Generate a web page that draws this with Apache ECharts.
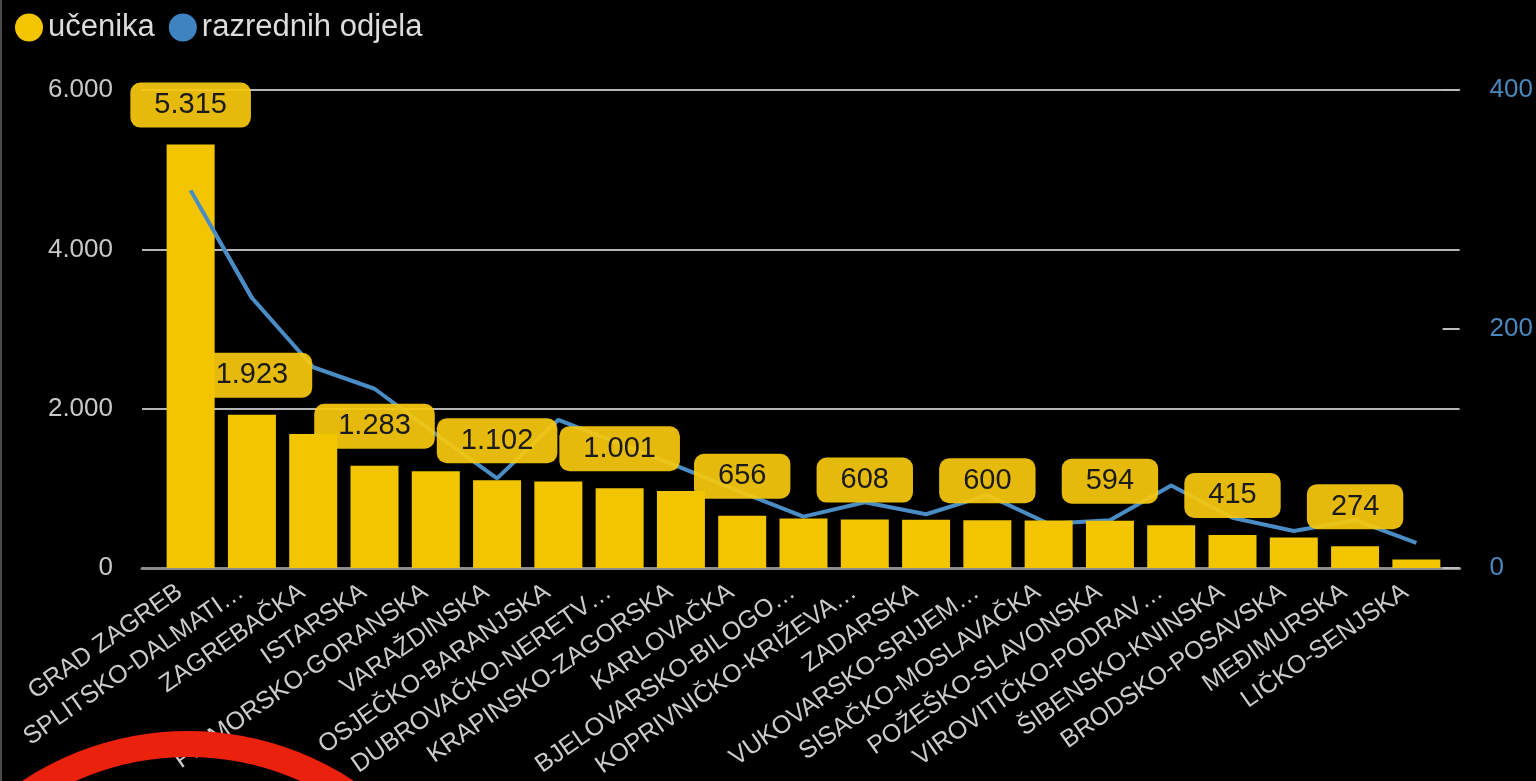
<!DOCTYPE html>
<html>
<head>
<meta charset="utf-8">
<script src="https://cdn.jsdelivr.net/npm/echarts@6/dist/echarts.min.js"></script>
<style>
html,body{margin:0;padding:0;background:#000;}
#chart{width:1536px;height:781px;}
</style>
</head>
<body>
<div id="chart"></div>
<script>
const categories = ['GRAD ZAGREB','SPLITSKO-DALMATI…','ZAGREBAČKA','ISTARSKA','PRIMORSKO-GORANSKA','VARAŽDINSKA','OSJEČKO-BARANJSKA','DUBROVAČKO-NERETV…','KRAPINSKO-ZAGORSKA','KARLOVAČKA','BJELOVARSKO-BILOGO…','KOPRIVNIČKO-KRIŽEVA…','ZADARSKA','VUKOVARSKO-SRIJEM…','SISAČKO-MOSLAVAČKA','POŽEŠKO-SLAVONSKA','VIROVITIČKO-PODRAV…','ŠIBENSKO-KNINSKA','BRODSKO-POSAVSKA','MEĐIMURSKA','LIČKO-SENJSKA'];
const ucenika = [5315,1923,1681,1283,1215,1102,1085,1001,965,656,620,608,605,600,595,594,537,415,382,274,106];
const odjela = [316,226,168,150,112,75,124,104,84,63,43,55,45,61,37,40,69,42,31,40,21];
const labeledIdx = [0,1,3,5,7,9,11,13,15,17,19];
const seriesNames = ['učenika','razrednih odjela'];
const leftTicks = {min:0, max:6000, interval:2000};
const rightTicks = {min:0, max:400, interval:200};

function fmt(v){ return String(v).replace(/\B(?=(\d{3})+(?!\d))/g,'.'); }

const FONT = "'Liberation Sans', Arial, sans-serif";
const LINE_COLOR = '#4a8cc4';
const chart = echarts.init(document.getElementById('chart'));
chart.setOption({
  backgroundColor:'#000',
  textStyle:{fontFamily:FONT},
  animation:false,
  legend:{
    data:seriesNames, left:15, top:12, icon:'circle', itemWidth:28, itemHeight:28, itemGap:14, padding:0,
    textStyle:{color:'#dcdcdc', fontSize:31, fontFamily:FONT}
  },
  grid:[
    {left:142, right:71, top:90, bottom:213},
    {left:160, right:89, top:90, bottom:213}
  ],
  xAxis:[
    {type:'category', gridIndex:0, data:categories, axisLine:{show:true, lineStyle:{color:'#8c8c8c', width:3}}, axisTick:{show:false}, axisLabel:{show:false}},
    {type:'category', gridIndex:1, data:categories, axisLine:{show:false}, axisTick:{show:false},
     axisLabel:{interval:0, rotate:35, fontSize:25, color:'#cccccc', margin:14, padding:[0,13,0,0], fontFamily:FONT}}
  ],
  yAxis:[
    {type:'value', gridIndex:0, position:'left', min:leftTicks.min, max:leftTicks.max, interval:leftTicks.interval,
     axisLine:{show:false}, axisTick:{show:false},
     axisLabel:{color:'#c8c8c8', fontSize:26, margin:29, formatter:fmt, fontFamily:FONT},
     splitLine:{show:true, lineStyle:{color:'#b4b4b4', width:2}}},
    {type:'value', gridIndex:0, position:'right', min:rightTicks.min, max:rightTicks.max, interval:rightTicks.interval,
     axisLine:{show:false}, axisTick:{show:true, inside:true, length:17, lineStyle:{color:'#bdbdbd', width:2}},
     axisLabel:{color:'#4a88bd', fontSize:26, margin:30, fontFamily:FONT}, splitLine:{show:false}},
    {type:'value', gridIndex:1, min:leftTicks.min, max:leftTicks.max, interval:leftTicks.interval, show:false, splitLine:{show:false}},
    {type:'value', gridIndex:1, position:'right', min:rightTicks.min, max:rightTicks.max, interval:rightTicks.interval, show:false, splitLine:{show:false}}
  ],
  series:[
    {name:seriesNames[1], type:'line', xAxisIndex:1, yAxisIndex:3, data:odjela, symbol:'none', z:1,
     lineStyle:{color:LINE_COLOR, width:4}, itemStyle:{color:'#3f84c0'}},
    {name:'_labels', type:'bar', xAxisIndex:1, yAxisIndex:2, z:2, barWidth:48, barGap:'-100%',
     itemStyle:{color:'rgba(0,0,0,0)'},
     data:ucenika.map((v,i)=>({value:v, label:{show:labeledIdx.indexOf(i)>=0}})),
     label:{show:false, position:'top', distance:17, formatter:p=>fmt(p.value), fontSize:29, color:'#1a1a1a',
       backgroundColor:'rgba(246,200,14,0.93)', padding:[8,24], borderRadius:10, fontFamily:FONT}},
    {name:seriesNames[0], type:'bar', xAxisIndex:1, yAxisIndex:2, z:3, barWidth:48, barGap:'-100%',
     data:ucenika, itemStyle:{color:'#f2c500'}},
    {name:seriesNames[1], type:'line', xAxisIndex:1, yAxisIndex:3, z:4, symbol:'none', silent:true,
     data:odjela.map((v,i)=> i<2 ? v : null),
     lineStyle:{color:LINE_COLOR, width:4}, itemStyle:{color:'#3f84c0'}}
  ],
  graphic:[
    {type:'rect', left:0, top:0, shape:{width:2, height:781}, style:{fill:'#4a4a4a'}, silent:true},
    {type:'circle', shape:{cx:188, cy:1031, r:287}, style:{fill:'none', stroke:'#ea210c', lineWidth:26}, z:100, silent:true}
  ]
});
</script>
</body>
</html>
